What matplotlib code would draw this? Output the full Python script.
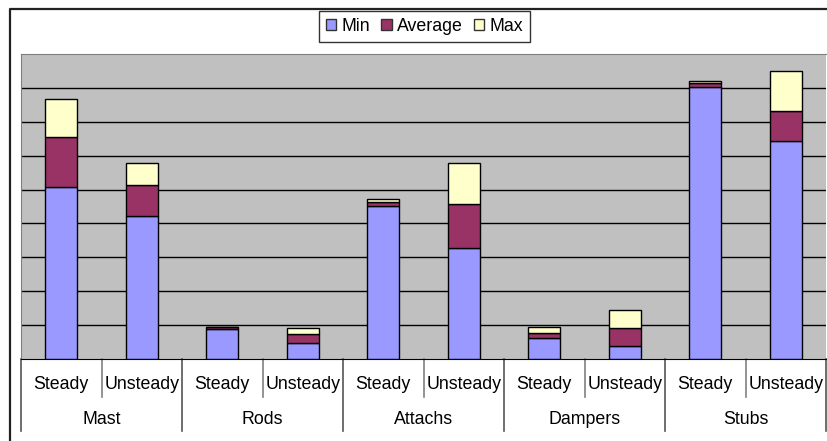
import numpy as np
import matplotlib
matplotlib.use("Agg")
import matplotlib.pyplot as plt
from matplotlib.patches import Patch
from matplotlib.lines import Line2D

plt.rcParams['font.family'] = ['Liberation Sans', 'DejaVu Sans']

groups = ["Mast", "Rods", "Attachs", "Dampers", "Stubs"]
conditions = ["Steady", "Unsteady"]

# stacked segments, one value per (group, condition)
min_vals = [5.07, 4.22, 0.89, 0.46, 4.52, 3.27, 0.62, 0.39, 8.03, 6.43]
avg_vals = [1.47, 0.91, 0.04, 0.27, 0.12, 1.29, 0.16, 0.52, 0.12, 0.88]
max_vals = [1.12, 0.65, 0.02, 0.19, 0.08, 1.22, 0.15, 0.54, 0.04, 1.19]

series = ["Min", "Average", "Max"]
colors = ["#9999FF", "#993366", "#FFFFCC"]

W, H = 827, 441
fig = plt.figure(figsize=(W / 100, H / 100), dpi=100)
FS = 12.8

# plot area in pixels
left, top, right, bottom = 21, 54, 826, 359
ax = fig.add_axes([left / W, 1 - bottom / H, (right - left) / W, (bottom - top) / H])
ax.set_facecolor("#C0C0C0")

n = len(min_vals)
x = np.arange(n)
bottoms = np.zeros(n)
for vals, c in zip([min_vals, avg_vals, max_vals], colors):
    ax.bar(x, vals, 0.4, bottom=bottoms, color=c, edgecolor="black", linewidth=1, zorder=3)
    bottoms += np.array(vals)

ax.set_xlim(-0.5, n - 0.5)
ax.set_ylim(0, 9)
for y in range(1, 9):
    ax.axhline(y, color="black", lw=1, zorder=1)

ax.set_xticks([])
ax.set_yticks([])
for s in ["left", "top"]:
    ax.spines[s].set_color("#808080")
ax.spines["right"].set_visible(False)
ax.spines["bottom"].set_color("black")

# two-level category axis
tr = ax.get_xaxis_transform()
for i in range(n):
    ax.text(i, -0.085, conditions[i % 2], transform=tr, ha="center", va="center", fontsize=FS)
for g, name in enumerate(groups):
    ax.text(2 * g + 0.5, -0.2, name, transform=tr, ha="center", va="center", fontsize=FS)
    ax.plot([2 * g + 0.5, 2 * g + 0.5], [0, -0.125], transform=tr, color="#808080", lw=1.2, clip_on=False)
for g in range(len(groups) + 1):
    ax.plot([2 * g - 0.5, 2 * g - 0.5], [0, -0.236], transform=tr, color="#555555", lw=1.2, clip_on=False)

# legend
handles = [Patch(facecolor=c, edgecolor="#333333", linewidth=1) for c in colors]
leg = fig.legend(handles, series, loc="center", bbox_to_anchor=(424.5 / W, 1 - 26.5 / H), ncol=3,
                 fontsize=FS, frameon=True, fancybox=False, edgecolor="black",
                 handlelength=0.6, handleheight=0.6, handletextpad=0.3, columnspacing=0.6,
                 borderpad=0.4, borderaxespad=0)
leg.get_frame().set_linewidth(1)

# outer chart border
fig.add_artist(Line2D([10 / W, 10 / W, 1], [0, 1 - 9 / H, 1 - 9 / H], transform=fig.transFigure,
                      color="#222222", lw=1.6))

fig.savefig("out.png", dpi=100, facecolor="white")
